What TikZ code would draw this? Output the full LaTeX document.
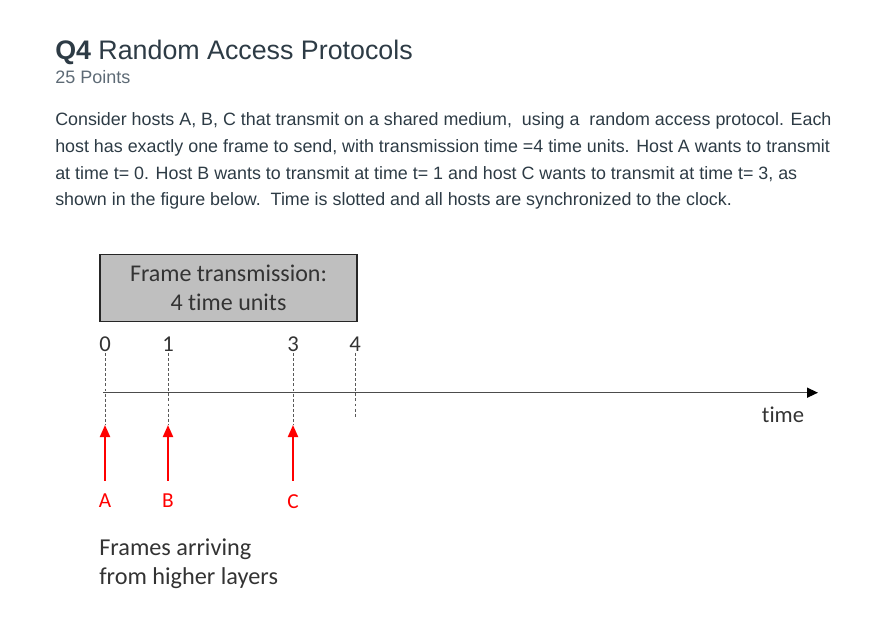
\documentclass[tikz,border=0pt]{standalone}
\usepackage{fontspec}
\setmainfont{Liberation Sans}
\newfontfamily\calfont[Ligatures=NoCommon]{Carlito}
\usepackage{tikz}
\usetikzlibrary{arrows.meta}

\definecolor{headdark}{HTML}{2D3B45}
\definecolor{pointsgray}{HTML}{5D6A75}
\definecolor{boxgray}{HTML}{BFBFBF}
\definecolor{labelgray}{HTML}{333333}

\begin{document}
\begin{tikzpicture}[x=0.75pt, y=-0.75pt,
  paraline/.style={anchor=base west, inner sep=0, text=headdark, font=\fontsize{13.4}{16}\selectfont},
  ticklabel/.style={inner sep=1pt, text=labelgray, font=\calfont\fontsize{17}{20}\selectfont},
  tickline/.style={dashed, dash pattern=on 2.2pt off 1.6pt, gray!70!black, line width=0.6pt},
  hostlabel/.style={anchor=north, inner sep=0, text=red, font=\calfont\fontsize{16}{19}\selectfont},
  hostarrow/.style={red, line width=1.5pt, -{Triangle[length=9pt, width=7.5pt]}, shorten <=10pt}]
\useasboundingbox (0,0) rectangle (875,635);

\node[anchor=base west, inner sep=0, text=headdark, font=\fontsize{20.1}{24}\selectfont] (title) at (55,59.5) {\textbf{Q4} Random Access Protocols};
\node[anchor=base west, inner sep=0, text=pointsgray, font=\fontsize{13.5}{16}\selectfont] (points) at (55,84) {25 Points};

\node[paraline] (par1) at (55,126) {Consider hosts A, B, C that transmit on a shared medium,\ \ using a\ \ random access protocol. Each};
\node[paraline] (par2) at (55,152.5) {host has exactly one frame to send, with transmission time =4 time units. Host A wants to transmit};
\node[paraline] (par3) at (55,179) {at time t= 0. Host B wants to transmit at time t= 1 and host C wants to transmit at time t= 3, as};
\node[paraline] (par4) at (55,205.5) {shown in the figure below.\ \ Time is slotted and all hosts are synchronized to the clock.};

\node[draw=black!85, fill=boxgray, line width=1.1pt, minimum width=192.75pt, minimum height=50.25pt,
  align=center, text=labelgray, font=\calfont\fontsize{18}{21.75}\selectfont] (frame) at (228.5,288) {Frame transmission:\\4 time units};

\node[ticklabel] (t0) at (105,344) {0};
\node[ticklabel] (t1) at (168,344) {1};
\node[ticklabel] (t3) at (293,344) {3};
\node[ticklabel] (t4) at (355,344) {4};

\coordinate (tipA) at (105,425);
\coordinate (tipB) at (168,425);
\coordinate (tipC) at (293,425);
\coordinate (end4) at (355,418);

\draw[tickline] (t0.south) -- (tipA);
\draw[tickline] (t1.south) -- (tipB);
\draw[tickline] (t3.south) -- (tipC);
\draw[tickline] (t4.south) -- (end4);

\coordinate (axstart) at (103,392.7);
\coordinate (axend) at (818,392.7);
\draw[gray!60!black, line width=1.1pt, -{Triangle[length=8.25pt, width=7.5pt, color=black]}] (axstart) -- (axend);
\node[text=labelgray, font=\calfont\fontsize{17}{20}\selectfont] (timelbl) at (783,415) {time};

\node[hostlabel] (hA) at (105,494) {A};
\node[hostlabel] (hB) at (168,494) {B};
\node[hostlabel] (hC) at (293,494) {C};
\draw[hostarrow] (hA.north) -- (tipA);
\draw[hostarrow] (hB.north) -- (tipB);
\draw[hostarrow] (hC.north) -- (tipC);

\node[anchor=north west, inner sep=0, align=left, text=labelgray, font=\calfont\fontsize{18.2}{21.75}\selectfont] (frames) at (99,539) {Frames arriving\\from higher layers};
\end{tikzpicture}
\end{document}
